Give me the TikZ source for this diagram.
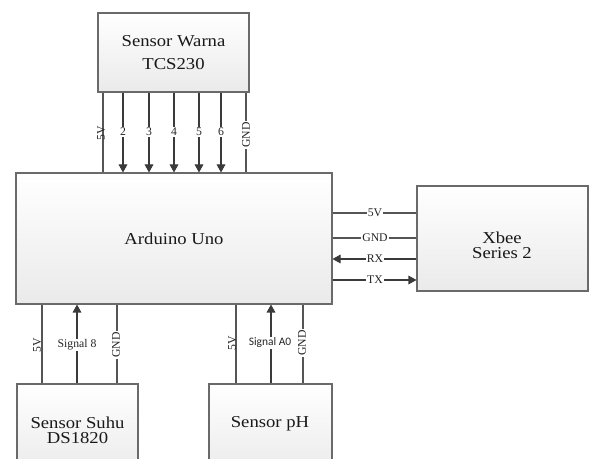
\documentclass[tikz,border=0pt]{standalone}
\usepackage{fontspec}
\setmainfont{Liberation Serif}
\newfontfamily\stretchserif{Liberation Serif}[FakeStretch=1.12]
\newfontfamily\califont{Carlito}
\usetikzlibrary{arrows.meta}
\definecolor{edgecol}{HTML}{6A6A6A}
\definecolor{wirecol}{HTML}{555555}
\definecolor{tipcol}{HTML}{3A3A3A}
\definecolor{boxbot}{HTML}{EAEAEA}
\begin{document}
\begin{tikzpicture}[x=0.75pt,y=-0.75pt,
  box/.style={draw=edgecol, line width=0.8pt, top color=white, bottom color=boxbot,
    inner sep=0pt, align=center, font=\stretchserif\fontsize{12.5pt}{14pt}\selectfont, text=black!90},
  boxtext/.style={align=center, text=black!90, inner sep=0pt},
  wire/.style={draw=wirecol, line width=0.8pt},
  arr/.style={wire, -{Triangle[length=6pt,width=6.5pt]}, tipcol},
  lbl/.style={fill=white, inner sep=0.6pt, font=\fontsize{8.8pt}{10pt}\selectfont, text=black!85},
  rlbl/.style={lbl, rotate=90}]
\useasboundingbox (0,0) rectangle (590,459);
\fill[white] (0,0) rectangle (590,459);
\begin{scope}
\clip (0,0) rectangle (590,459);
% boxes
\node[box, minimum width=151*0.75pt, minimum height=79*0.75pt] (warna) at (173.5,52.5)
  {Sensor Warna\\[3pt]TCS230};
\node[box, minimum width=316*0.75pt, minimum height=131*0.75pt] (uno) at (174,238.5)
  {Arduino Uno};
\node[box, minimum width=171*0.75pt, minimum height=105*0.75pt] (xbee) at (502.5,238.5) {};
\node[boxtext, font=\stretchserif\fontsize{12.5pt}{11.5pt}\selectfont] (xbeetext) at (502,245) {Xbee\\Series 2};
\node[box, minimum width=121*0.75pt, minimum height=92*0.75pt] (suhu) at (77.5,430) {};
\node[boxtext, font=\stretchserif\fontsize{12.5pt}{11.5pt}\selectfont] (suhutext) at (77.5,430) {Sensor Suhu\\DS1820};
\node[box, minimum width=123*0.75pt, minimum height=92*0.75pt] (ph) at (270.5,430) {};
\node[boxtext, font=\stretchserif\fontsize{12.5pt}{14pt}\selectfont] (phtext) at (270,424) {Sensor pH};
\end{scope}
% top wires
\draw[wire] (warna.south -| 103,0) -- (uno.north -| 103,0);
\draw[wire] (warna.south -| 246,0) -- (uno.north -| 246,0);
\foreach \x/\d in {123/2,149/3,174/4,199/5,221/6}{
  \draw[arr] (warna.south -| \x,0) -- (uno.north -| \x,0);
  \node[lbl] (top\d) at (\x,132) {\d};
}
\node[rlbl, fill=none] (top5v) at (101,133) {5V};
\node[rlbl] (topgnd) at (246,135) {GND};
% xbee wires
\draw[wire] (uno.east |- 0,213) -- (xbee.west |- 0,213);
\draw[wire] (uno.east |- 0,238) -- (xbee.west |- 0,238);
\draw[arr] (xbee.west |- 0,259) -- (uno.east |- 0,259);
\draw[arr] (uno.east |- 0,280) -- (xbee.west |- 0,280);
\node[lbl] (x5v) at (375,213) {5V};
\node[lbl] (xgnd) at (375,238) {GND};
\node[lbl] (xrx) at (375,259) {RX};
\node[lbl] (xtx) at (375,280) {TX};
% suhu wires
\draw[wire] (suhu.north -| 42,0) -- (uno.south -| 42,0);
\draw[wire] (suhu.north -| 117,0) -- (uno.south -| 117,0);
\draw[arr] (suhu.north -| 77,0) -- (uno.south -| 77,0);
\node[rlbl, fill=none] (s5v) at (37,345) {5V};
\node[lbl] (ssig) at (77,345) {Signal 8};
\node[rlbl] (sgnd) at (116,345) {GND};
% ph wires
\draw[wire] (ph.north -| 236,0) -- (uno.south -| 236,0);
\draw[wire] (ph.north -| 303,0) -- (uno.south -| 303,0);
\draw[arr] (ph.north -| 271,0) -- (uno.south -| 271,0);
\node[rlbl, fill=none] (p5v) at (232,343) {5V};
\node[lbl, font=\califont\fontsize{8.6pt}{10pt}\selectfont] (psig) at (270,343) {Signal A0};
\node[rlbl] (pgnd) at (302,343) {GND};
\end{tikzpicture}
\end{document}
